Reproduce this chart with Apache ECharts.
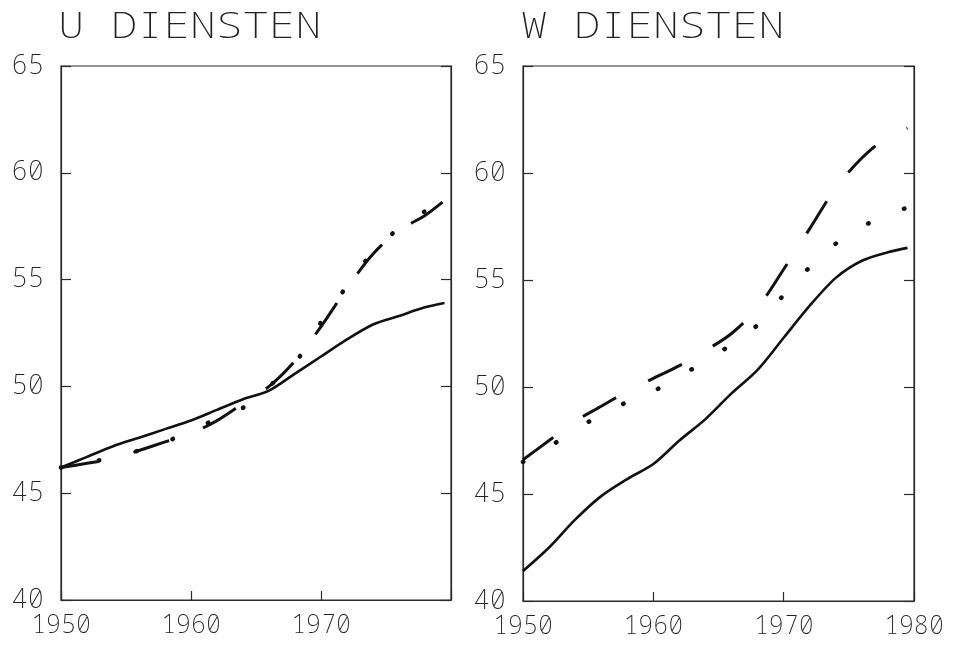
<!DOCTYPE html>
<html>
<head>
<meta charset="utf-8">
<script src="https://cdn.jsdelivr.net/npm/echarts@6/dist/echarts.min.js"></script>
<style>html,body{margin:0;padding:0;background:#fff;}#c{width:957px;height:647px;}</style>
</head>
<body>
<div id="c"></div>
<script>
// ---- data ----
const years = [1950, 1952, 1954, 1956, 1958, 1960, 1962, 1964, 1966, 1968, 1970, 1972, 1974, 1976, 1978, 1979.5];
const uSolid = [46.2, 46.7, 47.2, 47.6, 48.0, 48.4, 48.9, 49.4, 49.8, 50.6, 51.4, 52.2, 52.9, 53.3, 53.7, 53.9];
const uDash  = [46.2, 46.4, 46.6, 47.0, 47.4, 47.8, 48.4, 49.2, 50.0, 51.2, 52.8, 54.6, 56.2, 57.3, 58.0, 58.7];
const uDot   = [46.2, 46.4, 46.7, 47.0, 47.4, 47.9, 48.5, 49.0, 50.0, 51.1, 53.0, 54.7, 56.3, 57.4, 58.2, 58.9];
const wSolid = [41.4, 42.5, 43.8, 44.9, 45.7, 46.4, 47.5, 48.5, 49.7, 50.8, 52.3, 53.8, 55.1, 55.9, 56.3, 56.5];
const wDash  = [46.6, 47.5, 48.4, 49.1, 49.8, 50.4, 51.0, 51.7, 52.5, 53.7, 55.5, 57.4, 59.3, 60.7, 61.7, 62.1];
const wDot   = [46.5, 47.2, 48.0, 48.7, 49.3, 49.8, 50.5, 51.2, 52.0, 52.9, 54.3, 55.6, 56.7, 57.5, 58.0, 58.4];
const titles = ['U DIENSTEN', 'W DIENSTEN'];
const xMin = 1950, xMax = 1980, xStep = 10;
const yMin = 40, yMax = 65, yStep = 5;

const pair = (ys) => years.map((x, i) => [x, ys[i]]);
const FONT = '"Noto Sans Mono", "Liberation Mono", monospace';
const FW = 200;
const TXT = '#222';
const AX = '#2a2a2a';

function xAxis(gi, hide1980) {
  return {
    type: 'value', gridIndex: gi, min: xMin, max: xMax, interval: xStep,
    axisLine: { show: true, lineStyle: { color: AX, width: 1.2 } },
    axisTick: { show: true, inside: true, length: 9, lineStyle: { color: AX, width: 1.2 } },
    splitLine: { show: false },
    axisLabel: {
      margin: 13, color: TXT, fontFamily: FONT, fontWeight: FW, fontSize: 25,
      formatter: v => (hide1980 && v === 1980) ? '' : String(v)
    }
  };
}
function yAxis(gi, pos, labels) {
  return {
    type: 'value', gridIndex: gi, position: pos, min: yMin, max: yMax, interval: yStep,
    axisLine: { show: true, lineStyle: { color: AX, width: 1.2 } },
    axisTick: { show: true, inside: true, length: 10, lineStyle: { color: AX, width: 1.2 } },
    splitLine: { show: false },
    axisLabel: { show: labels, margin: 17, color: TXT, fontFamily: FONT, fontWeight: FW, fontSize: 27 }
  };
}
const solid = { color: '#111', width: 2.6, type: 'solid' };
const dashed = { color: '#111', width: 3, type: [38, 36], cap: 'butt' };
const dotted = { color: '#111', width: 4.5, type: [0.5, 38], cap: 'round' };
function ser(xi, yi, data, ls) {
  return { type: 'line', xAxisIndex: xi, yAxisIndex: yi, data: pair(data), smooth: 0.3,
           showSymbol: false, symbol: 'none', lineStyle: ls, silent: true, animation: false };
}

const chart = echarts.init(document.getElementById('c'), null, { renderer: 'canvas' });
chart.setOption({
  backgroundColor: '#fff',
  animation: false,
  grid: [
    { left: 61, top: 66, width: 390, height: 534, show: true, borderColor: AX, borderWidth: 1.2 },
    { left: 523, top: 66, width: 391, height: 535, show: true, borderColor: AX, borderWidth: 1.2 }
  ],
  xAxis: [xAxis(0, true), xAxis(1, false)],
  yAxis: [yAxis(0, 'left', true), yAxis(0, 'right', false), yAxis(1, 'left', true), yAxis(1, 'right', false)],
  graphic: [
    { type: 'text', x: 58, y: 10, scaleX: 1.22, style: { text: titles[0], font: FW + ' 36px ' + FONT, fill: TXT } },
    { type: 'text', x: 521, y: 10, scaleX: 1.22, style: { text: titles[1], font: FW + ' 36px ' + FONT, fill: TXT } }
  ],
  series: [
    ser(0, 0, uSolid, solid), ser(0, 0, uDash, dashed), ser(0, 0, uDot, dotted),
    ser(1, 2, wSolid, solid), ser(1, 2, wDash, dashed), ser(1, 2, wDot, dotted)
  ]
});
</script>
</body>
</html>
